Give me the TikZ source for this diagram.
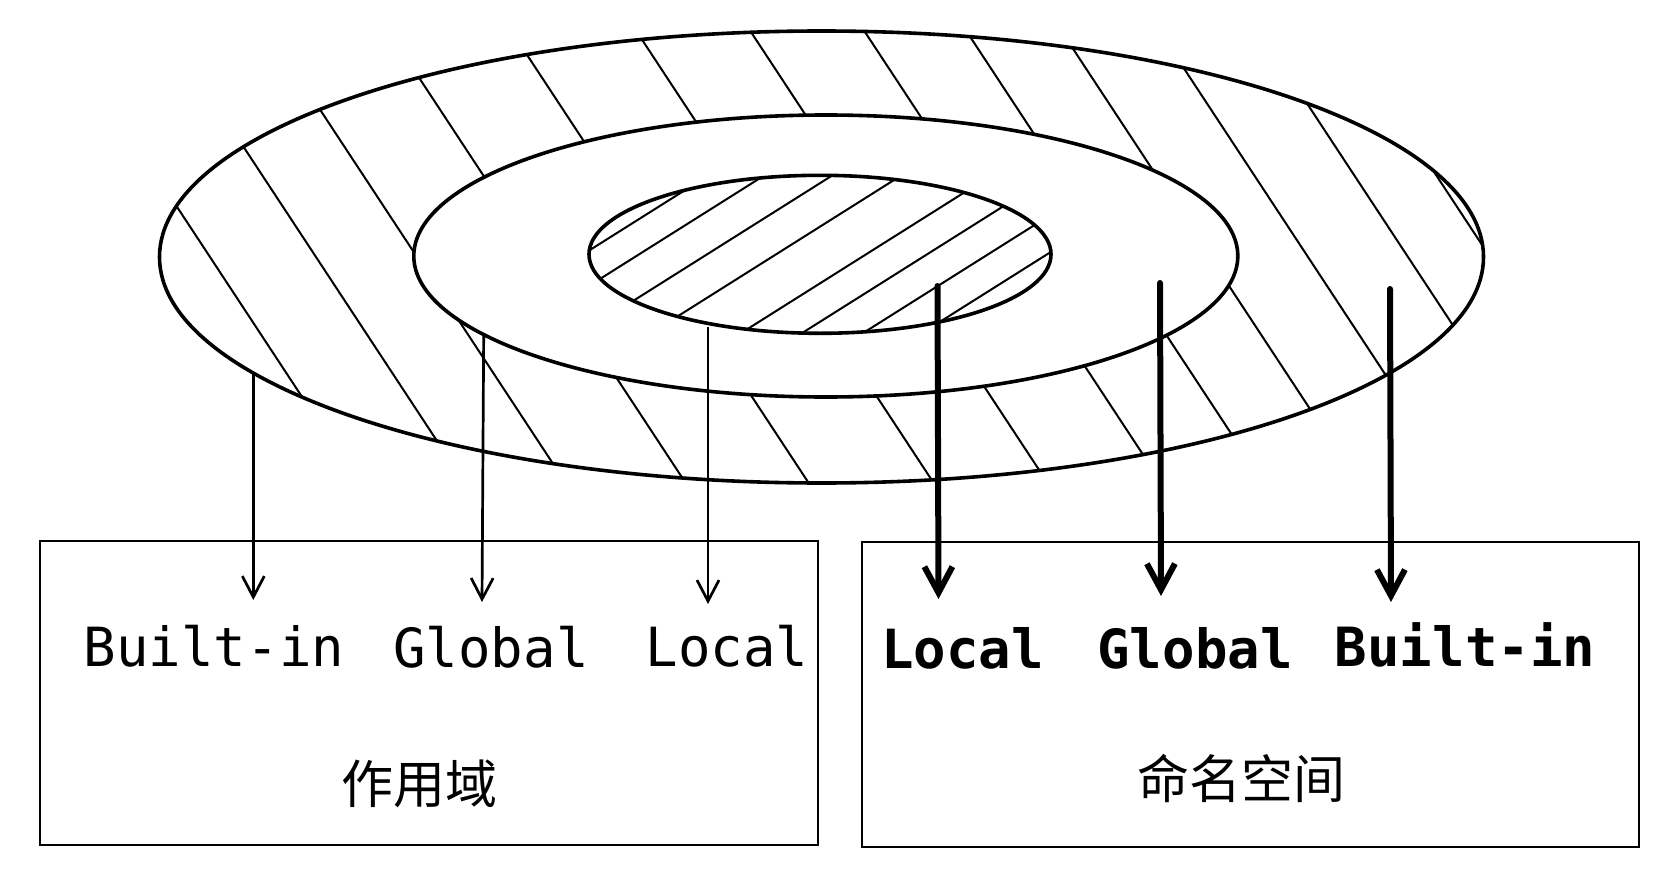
\documentclass[tikz,border=0pt]{standalone}
\usepackage{fontspec}
\setmonofont{DejaVu Sans Mono}
\newfontfamily\cjk{Noto Sans CJK SC}
\usetikzlibrary{arrows.meta}
\begin{document}
\begin{tikzpicture}[x=1pt,y=-1pt,
  ring/.style={line width=3.6pt},
  hatch/.style={line width=2pt},
  frame/.style={draw,line width=2.4pt,inner sep=0pt},
  thinarrow/.style={line width=2.7pt,-{Straight Barb[length=21pt,width=22pt]}},
  thickarrow/.style={line width=6pt,line cap=round,-{Straight Barb[length=26pt,width=28pt]}},
  lbl/.style={font=\fontsize{54}{60}\selectfont\ttfamily,inner sep=0pt,anchor=base},
  blbl/.style={font=\fontsize{54}{60}\selectfont\ttfamily\bfseries,inner sep=0pt,anchor=base},
  cjklbl/.style={font=\fontsize{52}{60}\selectfont\cjk,inner sep=0pt}]
\fill[white] (0,0) rectangle (1672,880);
\useasboundingbox (0,0) rectangle (1672,880);

% outer ring hatching
\begin{scope}
  \clip (821.5,257) ellipse [x radius=662pt, y radius=226pt];
  \foreach \xo in {210,316,417,537,660,785,899,1013,1115,1210,1308,1408,1490}
    \draw[hatch] ({\xo-200},{257-304}) -- ({\xo+200},{257+304});
\end{scope}
\fill[white] (825.8,256) ellipse [x radius=412pt, y radius=141pt];
% inner hatching
\begin{scope}
  \clip (820,254.3) ellipse [x radius=231pt, y radius=79pt];
  \foreach \xo in {582,638,706,775,865,926,987,1046}
    \draw[hatch] ({\xo-160},{255+100.8}) -- ({\xo+160},{255-100.8});
\end{scope}
% outlines
\draw[ring] (821.5,257) ellipse [x radius=662pt, y radius=226pt];
\draw[ring] (825.8,256) ellipse [x radius=412pt, y radius=141pt];
\draw[ring] (820,254.3) ellipse [x radius=231pt, y radius=79pt];

% boxes
\node[frame, minimum width=778pt, minimum height=304pt] (lbox) at (429,693) {};
\node[frame, minimum width=777pt, minimum height=305pt] (rbox) at (1250.5,694.5) {};

% labels
\node[lbl] (lb) at (214,666) {Built-in};
\node[lbl] (lg) at (491,667) {Global};
\node[lbl] (ll) at (727,666) {Local};
\node[blbl] (rl) at (962.5,668) {Local};
\node[blbl] (rg) at (1195,668) {Global};
\node[blbl] (rb) at (1465,666) {Built-in};
\node[cjklbl] (lz) at (419,784) {作用域};
\node[cjklbl] (rz) at (1241,778) {命名空间};

% thin arrows
\coordinate (s1) at (253.3,374);
\coordinate (t1) at (253.3,600);
\coordinate (s2) at (483.7,334);
\coordinate (t2) at (482,602);
\coordinate (s3) at (708,327);
\coordinate (t3) at (708,604);
\draw[thinarrow] (s1) -- (t1);
\draw[thinarrow] (s2) -- (t2);
\draw[thinarrow] (s3) -- (t3);

% thick arrows
\coordinate (u1) at (937.5,286);
\coordinate (v1) at (938.5,599);
\coordinate (u2) at (1160,283);
\coordinate (v2) at (1161,596);
\coordinate (u3) at (1390,289);
\coordinate (v3) at (1391,602);
\draw[thickarrow] (u1) -- (v1);
\draw[thickarrow] (u2) -- (v2);
\draw[thickarrow] (u3) -- (v3);
\end{tikzpicture}
\end{document}
